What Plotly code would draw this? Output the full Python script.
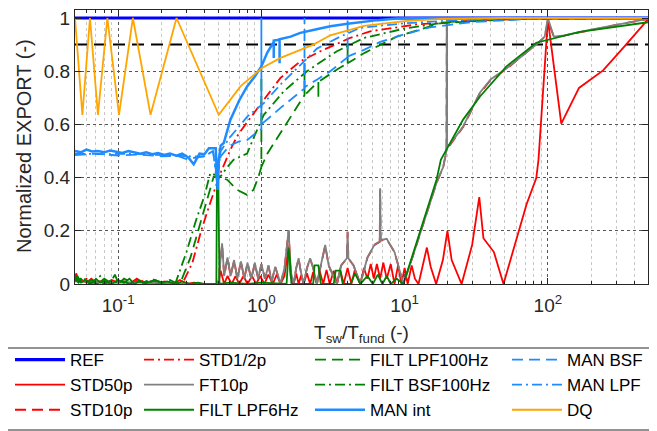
import math
import plotly.graph_objects as go

# ---------------- data ----------------
REF_x = [0.05, 500]
REF_y = [1.0, 1.0]

THR_x = [0.05, 500]
THR_y = [0.9, 0.9]

STD50_x = [0.05, 0.051, 0.053, 0.056, 0.06, 0.065, 0.07, 0.075, 0.08, 0.09, 0.1, 0.11, 0.12, 0.135, 0.15,
           0.17, 0.19, 0.21, 0.24, 0.27, 0.3, 0.34, 0.38, 0.42, 0.46, 0.5, 0.52, 0.55, 0.58, 0.62, 0.66,
           0.7, 0.75, 0.8, 0.86, 0.92, 0.98, 1.05, 1.12, 1.2, 1.28, 1.36, 1.45, 1.55, 1.6, 1.68, 1.75,
           1.82, 1.9, 1.97, 2.08, 2.19, 2.3, 2.44, 2.55, 2.7, 2.85, 3.0, 3.2, 3.37, 3.55, 3.75, 4.0,
           4.25, 4.5, 4.9, 5.2, 5.5, 5.8, 6.1, 6.4, 6.75, 7.1, 7.5, 8.0, 8.5, 9.0, 9.5, 10.0, 10.5,
           11.2, 11.8, 12.5, 13.4, 14.3, 15.2, 16.6, 18.5, 19.9, 21.3, 25.0, 29.6, 33.2, 35.5, 42.0,
           49.0, 60.0, 71.0, 83.0, 86.0, 100.0, 124.0, 165.0, 243.0, 344.0, 500.0]
STD50_y = [0.02, 0.04, 0.01, 0.015, 0.005, 0.02, 0.005, 0.01, 0.0, 0.015, 0.005, 0.01, 0.0, 0.02, 0.005,
           0.01, 0.0, 0.01, 0.0, 0.015, 0.0, 0.005, 0.0, 0.0, 0.0, 0.0, 0.05, 0.0, 0.03, 0.0, 0.03,
           0.0, 0.03, 0.0, 0.03, 0.0, 0.03, 0.0, 0.035, 0.0, 0.035, 0.0, 0.03, 0.14, 0.03, 0.0, 0.04,
           0.0, 0.035, 0.0, 0.04, 0.0, 0.045, 0.0, 0.05, 0.0, 0.053, 0.0, 0.05, 0.0, 0.055, 0.0, 0.06,
           0.0, 0.055, 0.0, 0.06, 0.02, 0.075, 0.02, 0.075, 0.02, 0.08, 0.02, 0.075, 0.0, 0.07, 0.0, 0.06, 0.0,
           0.07, 0.02, 0.0, 0.065, 0.137, 0.065, 0.0, 0.09, 0.2, 0.09, 0.0, 0.147, 0.327, 0.172, 0.12,
           0.0, 0.166, 0.30, 0.398, 0.467, 0.994, 0.603, 0.737, 0.803, 0.894, 0.995]

STD10_x = [0.05, 0.1, 0.2, 0.3, 0.45, 0.5, 0.532, 0.55, 0.58, 0.61, 0.645, 0.68, 0.72, 0.76, 0.8, 0.85,
           0.9, 0.95, 1.0, 1.06, 1.12, 1.18, 1.25, 1.36, 1.45, 1.55, 1.6, 1.68, 1.75, 1.82, 1.88, 1.97,
           2.08, 2.19, 2.3, 2.44, 2.6, 2.79, 2.95, 3.37, 3.6, 3.95, 4.0, 4.05, 4.4, 4.9, 5.5, 6.2, 6.7,
           6.75, 6.8, 7.5, 8.5, 9.8, 11.5, 14.3, 16.7, 18.6, 19.6, 19.7, 19.8, 20.7, 25.6, 33.6, 40.0,
           51.4, 70.0, 83.0, 95.0, 100.0, 110.0, 130.0, 200.0, 300.0, 500.0]
STD10_y = [0.012, 0.006, 0.004, 0.0, 0.0, 0.0, 0.15, 0.03, 0.098, 0.03, 0.088, 0.02, 0.084, 0.02, 0.079, 0.02,
           0.078, 0.02, 0.074, 0.02, 0.069, 0.01, 0.064, 0.0, 0.059, 0.2, 0.05, 0.0, 0.059, 0.095, 0.05, 0.0,
           0.059, 0.095, 0.06, 0.0, 0.069, 0.145, 0.07, 0.0, 0.069, 0.096, 0.195, 0.096, 0.07, 0.0, 0.099, 0.148,
           0.158, 0.355, 0.163, 0.168, 0.12, 0.0, 0.11, 0.27, 0.38, 0.44, 0.5, 0.99, 0.52, 0.522, 0.59, 0.718,
           0.768, 0.808, 0.868, 0.9, 0.928, 0.99, 0.93, 0.934, 0.955, 0.974, 0.996]

STDH_x = [0.05, 0.055, 0.06, 0.07, 0.08, 0.09, 0.1, 0.12, 0.14, 0.16, 0.19, 0.22, 0.25, 0.28, 0.33,
          0.38, 0.43, 0.465, 0.49, 0.518, 0.608, 0.677, 0.714, 0.98, 1.36, 1.87, 2.58, 4.17, 5.75, 12.2,
          30.0, 100.0, 500.0]
STDH_y = [0.035, 0.01, 0.02, 0.0, 0.015, 0.005, 0.01, 0.0, 0.015, 0.005, 0.01, 0.0, 0.005, 0.0, 0.08,
          0.2, 0.29, 0.348, 0.38, 0.417, 0.505, 0.555, 0.574, 0.674, 0.775, 0.837, 0.875, 0.925, 0.95,
          0.976, 0.99, 1.0, 1.0]

FT10_x = [0.05, 0.1, 0.2, 0.3, 0.45, 0.5, 0.532, 0.55, 0.58, 0.61, 0.645, 0.68, 0.72, 0.76, 0.8, 0.85,
          0.9, 0.95, 1.0, 1.06, 1.12, 1.18, 1.25, 1.36, 1.45, 1.55, 1.6, 1.68, 1.75, 1.82, 1.88, 1.97,
          2.08, 2.19, 2.3, 2.44, 2.6, 2.79, 2.95, 3.37, 3.6, 3.95, 4.0, 4.05, 4.4, 4.9, 5.5, 6.2, 6.7,
          6.75, 6.8, 7.5, 8.5, 9.8, 11.5, 14.3, 16.7, 18.6, 19.6, 19.7, 19.8, 20.7, 25.6, 33.6, 40.0,
          51.4, 70.0, 83.0, 95.0, 100.0, 110.0, 130.0, 200.0, 300.0, 500.0]
FT10_y = [0.01, 0.005, 0.005, 0.0, 0.0, 0.0, 0.153, 0.03, 0.1, 0.03, 0.09, 0.02, 0.085, 0.02, 0.08, 0.02,
          0.08, 0.02, 0.075, 0.02, 0.07, 0.01, 0.065, 0.0, 0.06, 0.203, 0.05, 0.0, 0.06, 0.097, 0.05, 0.0,
          0.06, 0.097, 0.06, 0.0, 0.07, 0.147, 0.07, 0.0, 0.07, 0.097, 0.197, 0.097, 0.07, 0.0, 0.1, 0.15,
          0.16, 0.36, 0.165, 0.17, 0.12, 0.0, 0.11, 0.27, 0.38, 0.44, 0.5, 1.0, 0.52, 0.524, 0.592, 0.72,
          0.77, 0.81, 0.87, 0.9, 0.93, 1.0, 0.93, 0.935, 0.956, 0.975, 0.997]

LPF6_x = [0.05, 0.052, 0.055, 0.06, 0.065, 0.07, 0.075, 0.08, 0.09, 0.1, 0.11, 0.12, 0.13, 0.14, 0.16,
          0.18, 0.2, 0.22, 0.25, 0.28, 0.32, 0.36, 0.4, 0.45, 0.485, 0.49, 0.5, 0.51, 0.6, 0.8, 1.0, 1.5,
          1.53, 1.55, 1.58, 1.62, 2.3, 2.35, 2.5, 2.6, 3.2, 3.3, 3.55, 3.7, 4.2, 4.5, 4.9, 5.5, 6.0, 6.5,
          7.0, 7.5, 8.0, 8.8, 9.8, 11.5, 14.3, 16.7, 17.9, 25.6, 33.6, 51.4, 83.0, 167.0, 500.0]
LPF6_y = [0.01, 0.03, 0.005, 0.015, 0.0, 0.02, 0.005, 0.01, 0.0, 0.015, 0.005, 0.02, 0.0, 0.01, 0.005,
          0.015, 0.005, 0.01, 0.0, 0.01, 0.0, 0.005, 0.0, 0.0, 0.0, 0.42, 0.42, 0.0, 0.005, 0.0, 0.005, 0.0,
          0.1, 0.134, 0.1, 0.0, 0.0, 0.07, 0.07, 0.0, 0.0, 0.05, 0.05, 0.0, 0.0, 0.04, 0.0, 0.03, 0.0, 0.035,
          0.0, 0.03, 0.0, 0.02, 0.0, 0.115, 0.279, 0.392, 0.467, 0.618, 0.705, 0.818, 0.907, 0.948, 0.984]

LPF100_x = [0.05, 0.052, 0.055, 0.06, 0.066, 0.072, 0.08, 0.088, 0.095, 0.1, 0.11, 0.12, 0.135, 0.15,
            0.17, 0.19, 0.21, 0.23, 0.25, 0.27, 0.32, 0.37, 0.42, 0.465, 0.52, 0.577, 0.677, 0.795, 0.88,
            0.95, 1.0, 1.0, 1.0, 1.1, 1.36, 1.72, 2.0, 2.0, 2.0, 2.44, 2.5, 2.5, 2.5, 3.37, 4.0, 4.0, 4.0,
            5.3, 8.8, 17.7, 50.0, 500.0]
LPF100_y = [0.03, 0.01, 0.02, 0.005, 0.015, 0.0, 0.02, 0.005, 0.035, 0.005, 0.01, 0.0, 0.015, 0.005,
            0.02, 0.01, 0.005, 0.015, 0.005, 0.0, 0.1, 0.22, 0.32, 0.404, 0.40, 0.392, 0.354, 0.335, 0.354,
            0.40, 0.44, 0.78, 0.44, 0.49, 0.568, 0.655, 0.71, 0.83, 0.71, 0.756, 0.76, 0.70, 0.76, 0.806,
            0.83, 0.90, 0.83, 0.87, 0.93, 0.98, 0.995, 1.0]

BSF100_x = [0.05, 0.053, 0.057, 0.062, 0.068, 0.075, 0.083, 0.092, 0.1, 0.11, 0.125, 0.14, 0.16, 0.18,
            0.2, 0.22, 0.25, 0.3, 0.35, 0.4, 0.44, 0.48, 0.518, 0.58, 0.64, 0.72, 0.795, 0.9, 1.04, 1.43,
            2.08, 3.37, 5.2, 9.9, 20.0, 100.0, 500.0]
BSF100_y = [0.02, 0.005, 0.025, 0.0, 0.01, 0.03, 0.005, 0.015, 0.0, 0.02, 0.005, 0.01, 0.0, 0.015, 0.005,
            0.01, 0.0, 0.12, 0.24, 0.33, 0.417, 0.41, 0.404, 0.44, 0.467, 0.48, 0.49, 0.56, 0.636, 0.724,
            0.8, 0.875, 0.925, 0.96, 0.985, 1.0, 1.0]

MANI_x = [0.05, 0.055, 0.06, 0.066, 0.072, 0.08, 0.088, 0.097, 0.107, 0.118, 0.13, 0.143, 0.157, 0.173,
          0.19, 0.21, 0.23, 0.255, 0.28, 0.31, 0.337, 0.37, 0.4, 0.43, 0.46, 0.48, 0.495, 0.505, 0.52,
          0.546, 0.608, 0.7, 0.795, 0.9, 1.0, 1.1, 1.22, 1.22, 1.22, 1.3, 1.34, 1.34, 1.34, 1.6, 1.87, 2.3,
          3.03, 4.0, 5.0, 6.5, 8.8, 15.0, 500.0]
MANI_y = [0.50, 0.495, 0.505, 0.498, 0.50, 0.495, 0.502, 0.497, 0.493, 0.50, 0.496, 0.49, 0.495, 0.488,
          0.492, 0.485, 0.49, 0.482, 0.49, 0.475, 0.45, 0.49, 0.488, 0.51, 0.51, 0.51, 0.354, 0.47, 0.52,
          0.53, 0.618, 0.69, 0.743, 0.78, 0.818, 0.87, 0.91, 0.85, 0.915, 0.917, 0.918, 0.83, 0.92, 0.93,
          0.944, 0.955, 0.969, 0.978, 0.985, 0.992, 0.998, 1.0, 1.0]

MANB_x = [0.05, 0.07, 0.1, 0.14, 0.2, 0.26, 0.3, 0.35, 0.4, 0.46, 0.49, 0.52, 0.6, 0.7, 0.79, 0.98,
          1.0, 1.0, 1.0, 1.36, 1.77, 2.0, 2.0, 2.0, 2.44, 3.03, 3.95, 4.0, 4.0, 4.0, 5.2, 6.75, 9.9,
          15.0, 30.0, 100.0, 500.0]
MANB_y = [0.485, 0.49, 0.483, 0.487, 0.48, 0.482, 0.47, 0.475, 0.48, 0.5, 0.40, 0.48, 0.52, 0.536, 0.54,
          0.58, 0.58, 1.0, 0.6, 0.662, 0.712, 0.735, 1.0, 0.74, 0.768, 0.80, 0.85, 0.85, 1.0, 0.855, 0.88,
          0.91, 0.938, 0.965, 0.985, 1.0, 1.0]

MANL_x = [0.05, 0.08, 0.12, 0.18, 0.25, 0.32, 0.4, 0.46, 0.49, 0.52, 0.6, 0.8, 1.04, 1.36, 1.77, 2.44,
          3.55, 4.9, 9.9, 20.0, 50.0, 500.0]
MANL_y = [0.49, 0.488, 0.49, 0.485, 0.483, 0.48, 0.48, 0.50, 0.38, 0.50, 0.55, 0.63, 0.68, 0.75, 0.81,
          0.885, 0.93, 0.963, 0.98, 0.99, 0.998, 1.0]

DQ_x = [0.05, 0.0563, 0.0636, 0.0723, 0.0841, 0.1014, 0.1268, 0.1684, 0.2557, 0.504, 0.608, 0.714, 1.01,
        1.36, 2.31, 3.03, 5.2, 10.0, 18.0, 50.0, 500.0]
DQ_y = [1.0, 0.636, 1.0, 0.636, 1.0, 0.636, 1.0, 0.636, 1.0, 0.636, 0.693, 0.743, 0.812, 0.85, 0.9,
        0.935, 0.97, 0.988, 0.997, 1.0, 1.0]

X_TICKS = [0.1, 1, 10, 100]
X_TICKTEXT = ["10<sup>-1</sup>", "10<sup>0</sup>", "10<sup>1</sup>", "10<sup>2</sup>"]
Y_TICKS = [0, 0.2, 0.4, 0.6, 0.8, 1.0]
Y_TICKTEXT = ["0", "0.2", "0.4", "0.6", "0.8", "1"]

RED = "#FF0000"
GRAY = "#808080"
GREEN = "#008000"
LBLUE = "#1E8CFF"
DASH = "11px,6px"
DASHDOT = "10px,4px,2px,4px"

series = [
    ("REF", REF_x, REF_y, "#0000FF", "solid", 3.2, "legend"),
    ("STD50p", STD50_x, STD50_y, RED, "solid", 1.8, "legend"),
    ("STD10p", STD10_x, STD10_y, RED, DASH, 1.8, "legend"),
    ("STD1/2p", STDH_x, STDH_y, RED, DASHDOT, 1.8, "legend2"),
    ("FT10p", FT10_x, FT10_y, GRAY, "solid", 1.8, "legend2"),
    ("FILT LPF6Hz", LPF6_x, LPF6_y, GREEN, "solid", 1.8, "legend2"),
    ("FILT LPF100Hz", LPF100_x, LPF100_y, GREEN, DASH, 1.8, "legend3"),
    ("FILT BSF100Hz", BSF100_x, BSF100_y, GREEN, DASHDOT, 1.8, "legend3"),
    ("MAN int", MANI_x, MANI_y, LBLUE, "solid", 2.5, "legend3"),
    ("MAN BSF", MANB_x, MANB_y, LBLUE, DASH, 1.8, "legend4"),
    ("MAN LPF", MANL_x, MANL_y, LBLUE, DASHDOT, 1.8, "legend4"),
    ("DQ", DQ_x, DQ_y, "#FFA500", "solid", 1.8, "legend4"),
]

fig = go.Figure()
first = True
for name, xs, ys, col, dash, w, leg in series:
    fig.add_trace(go.Scatter(x=xs, y=ys, mode="lines", name=name, legend=leg,
                             line=dict(color=col, width=w, dash=dash)))
    if first:
        fig.add_trace(go.Scatter(x=THR_x, y=THR_y, mode="lines", showlegend=False, hoverinfo="skip",
                                 line=dict(color="black", width=2, dash="12px,7px")))
        first = False

# page has an 8px body margin: figure occupies page px 8..657 / 8..431
OFF = 8
W, H = 657 - OFF, 431 - OFF
L, R, T, B = 75 - OFF, 9, 2, 147
pw, ph = W - L - R, H - T - B
y_top = (284 - OFF - T) / (284 - 18)

def px2paper_x(page_px):
    return (page_px - OFF - L) / pw

def py2paper_y(page_py):
    return (H - B - (page_py - OFF)) / ph

AX = "#262626"
FONT = "Liberation Sans, Arial, sans-serif"
leg_common = dict(bgcolor="rgba(0,0,0,0)", borderwidth=0, font=dict(size=17, family=FONT, color="black"),
                  xref="container", yref="container", xanchor="left", yanchor="top",
                  orientation="v", tracegroupgap=0, itemwidth=50)
legy = 1 - 334 / H
fig.update_layout(
    width=W, height=H, margin=dict(l=L, r=R, t=T, b=B, autoexpand=False),
    plot_bgcolor="white", paper_bgcolor="white",
    font=dict(family=FONT, color=AX),
    legend=dict(x=2 / W, y=legy, **leg_common),
    legend2=dict(x=131 / W, y=legy, **leg_common),
    legend3=dict(x=302 / W, y=legy, **leg_common),
    legend4=dict(x=499 / W, y=legy, **leg_common),
    xaxis=dict(type="log", range=[math.log10(0.05), math.log10(500)],
               tickmode="array", tickvals=X_TICKS, ticktext=X_TICKTEXT,
               showline=True, linecolor=AX, linewidth=1, mirror="ticks",
               ticks="inside", ticklen=6, tickcolor=AX, tickfont=dict(size=19, color=AX),
               ticklabelstandoff=4,
               showgrid=True, gridcolor="#555555", griddash="dot", gridwidth=1, zeroline=False,
               minor=dict(ticks="inside", ticklen=3, tickcolor=AX, showgrid=True,
                          gridcolor="#c8c8c8", griddash="dot", dtick="D1"),
               title=dict(text="T<sub>sw</sub>/T<sub>fund</sub> (-)", font=dict(size=19, color=AX),
                          standoff=10)),
    yaxis=dict(range=[0, y_top], tickmode="array", tickvals=Y_TICKS, ticktext=Y_TICKTEXT,
               showline=True, linecolor=AX, ticklabeloverflow="allow",
               linewidth=1, mirror="ticks", ticks="inside", ticklen=6, tickcolor=AX,
               tickfont=dict(size=19, color=AX), showgrid=True, gridcolor="#555555",
               griddash="dot", gridwidth=1, zeroline=False),
    annotations=[dict(text="Normalized EXPORT (-)", textangle=-90, xref="paper", yref="paper",
                      x=px2paper_x(24), y=py2paper_y(146), xanchor="center", yanchor="middle",
                      showarrow=False, font=dict(size=20, color=AX, family=FONT))],
    shapes=[dict(type="rect", xref="paper", yref="paper", x0=px2paper_x(3), x1=px2paper_x(651),
                 y0=py2paper_y(430), y1=py2paper_y(348), line=dict(color=AX, width=1),
                 fillcolor="rgba(0,0,0,0)", layer="above")],
)

fig.write_html("out.html")
